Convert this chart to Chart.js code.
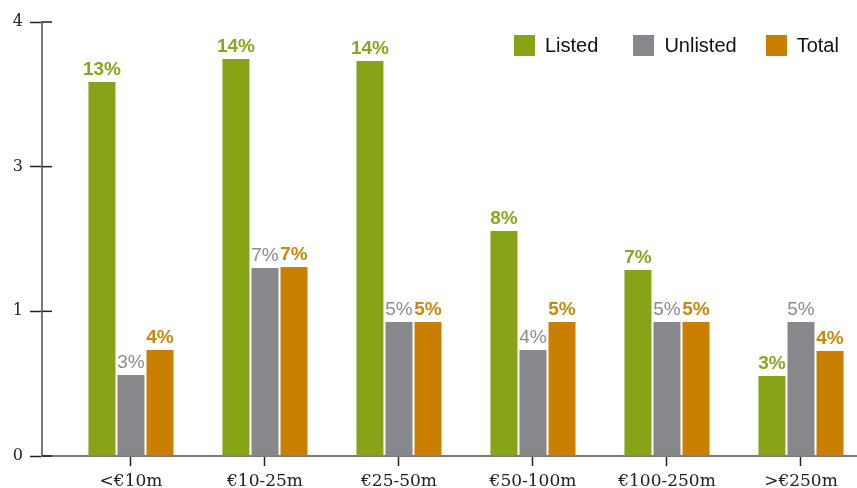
<!DOCTYPE html>
<html>
<head>
<meta charset="utf-8">
<script src="https://cdn.jsdelivr.net/npm/chart.js@4.4.0/dist/chart.umd.min.js"></script>
<style>
  html, body { margin: 0; padding: 0; background: #fff; }
  #wrap { position: relative; width: 857px; height: 488px; }
  #legend { position: absolute; left: 514px; top: 35px; display: flex;
    font-family: "Liberation Sans", Arial, sans-serif; font-size: 20px; color: #111; }
  .item { display: flex; align-items: center; height: 21px; line-height: 21px; }
  .box { width: 21px; height: 21px; margin-right: 10px; }
</style>
</head>
<body>
<div id="wrap">
  <canvas id="chart" width="857" height="488"></canvas>
  <div id="legend"></div>
</div>
<script>
// data (bar heights in axis units, labels as printed)
const categories = ['<€10m', '€10-25m', '€25-50m', '€50-100m', '€100-250m', '>€250m'];
const listed = [2.585, 2.744, 2.730, 1.555, 1.286, 0.553];
const unlisted = [0.56, 1.30, 0.926, 0.733, 0.926, 0.926];
const total = [0.733, 1.306, 0.926, 0.926, 0.926, 0.726];
const listedLabels = ['13%', '14%', '14%', '8%', '7%', '3%'];
const unlistedLabels = ['3%', '7%', '5%', '4%', '5%', '5%'];
const totalLabels = ['4%', '7%', '5%', '5%', '5%', '4%'];
const yTickLabels = ['0', '1', '3', '4'];

const seriesNames = ['Listed', 'Unlisted', 'Total'];
const barColors = ['#87a317', '#87888c', '#c98000'];
const textColors = ['#8aa61e', '#8b8c90', '#cc8708'];
const legendGaps = [35, 29, 0];

function points(arr) {
    return arr.map((v, i) => ({ x: i, y: v }));
}

// value labels over each bar
const barLabels = {
    id: 'barLabels',
    afterDatasetsDraw(chart) {
        const ctx = chart.ctx;
        chart.data.datasets.forEach((ds, di) => {
            const meta = chart.getDatasetMeta(di);
            meta.data.forEach((bar, i) => {
                ctx.save();
                ctx.font = ds.labelFont;
                ctx.fillStyle = ds.labelColor;
                ctx.textAlign = 'center';
                ctx.textBaseline = 'alphabetic';
                ctx.fillText(ds.valueLabels[i], bar.x, bar.y - 7);
                ctx.restore();
            });
        });
    }
};

// y ticks cross the axis, so add the part on the right
const yTicksRight = {
    id: 'yTicksRight',
    afterDraw(chart) {
        const y = chart.scales.y;
        const ctx = chart.ctx;
        const left = chart.chartArea.left;
        ctx.save();
        ctx.strokeStyle = '#222';
        ctx.lineWidth = 1.5;
        y.ticks.forEach(t => {
            const py = y.getPixelForValue(t.value);
            ctx.beginPath();
            ctx.moveTo(left, py);
            ctx.lineTo(left + 10, py);
            ctx.stroke();
        });
        ctx.restore();
    }
};

const allValues = [listed, unlisted, total];
const allLabels = [listedLabels, unlistedLabels, totalLabels];

const ctx = document.getElementById('chart').getContext('2d');
const chart = new Chart(ctx, {
    type: 'bar',
    data: {
        datasets: seriesNames.map((name, k) => ({
            label: name,
            data: points(allValues[k]),
            backgroundColor: barColors[k],
            valueLabels: allLabels[k],
            labelColor: textColors[k],
            labelFont: (k === 1 ? '' : 'bold ') + '19px "Liberation Sans", Arial, sans-serif',
            categoryPercentage: 0.65,
            barPercentage: 0.93
        }))
    },
    options: {
        responsive: false,
        animation: false,
        layout: { padding: { top: 22, left: 0, right: 0, bottom: 0 } },
        plugins: {
            legend: { display: false },
            tooltip: { enabled: false }
        },
        scales: {
            x: {
                type: 'linear',
                min: -0.664,
                max: 5.418,
                offset: false,
                z: 1,
                afterBuildTicks: axis => {
                    axis.ticks = categories.map((c, i) => ({ value: i }));
                },
                afterFit: axis => { axis.height = 32; },
                grid: { offset: false, drawOnChartArea: false, tickLength: 10, tickColor: '#222', tickWidth: 1.5 },
                border: { color: '#7a7a7a', width: 2 },
                ticks: {
                    autoSkip: false,
                    maxRotation: 0,
                    padding: 5,
                    color: '#222',
                    font: { family: '"DejaVu Serif", serif', size: 17 },
                    callback: value => categories[value]
                }
            },
            y: {
                min: 0,
                max: 3,
                z: 1,
                afterFit: axis => { axis.width = 42; },
                grid: { drawOnChartArea: false, tickLength: 12, tickColor: '#222', tickWidth: 1.5 },
                border: { color: '#7a7a7a', width: 2 },
                ticks: {
                    stepSize: 1,
                    padding: 7,
                    color: '#222',
                    font: { family: '"DejaVu Serif", serif', size: 16 },
                    callback: value => yTickLabels[value]
                }
            }
        }
    },
    plugins: [barLabels, yTicksRight]
});

// legend
const legend = document.getElementById('legend');
seriesNames.forEach((name, k) => {
    const item = document.createElement('div');
    item.className = 'item';
    item.style.marginRight = legendGaps[k] + 'px';
    const box = document.createElement('span');
    box.className = 'box';
    box.style.background = barColors[k];
    item.appendChild(box);
    item.appendChild(document.createTextNode(name));
    legend.appendChild(item);
});
</script>
</body>
</html>
